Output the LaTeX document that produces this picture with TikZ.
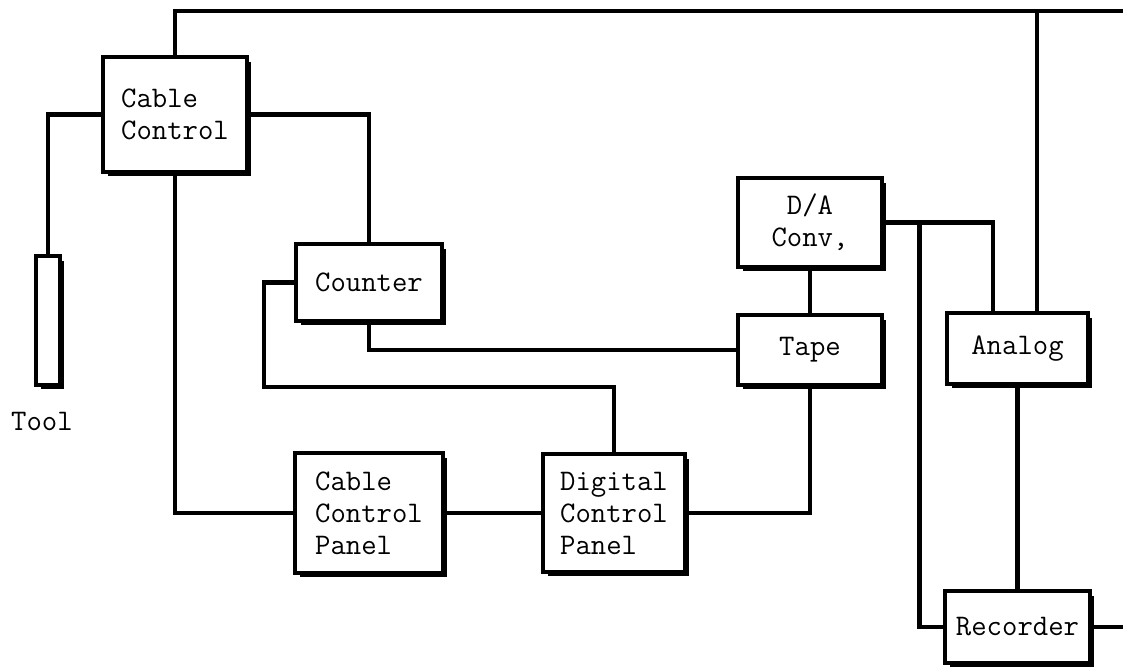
\documentclass[tikz,border=0pt]{standalone}
\usepackage{tikz}
\usetikzlibrary{shadows}

\begin{document}
\begin{tikzpicture}[x=0.02cm, y=-0.02cm, line width=2.6pt,
    unit/.style={draw, fill=white, inner sep=0pt, align=left,
        font=\fontsize{17}{18.2}\selectfont\ttfamily,
        drop shadow={shadow xshift=0.09cm, shadow yshift=-0.09cm, fill=black, opacity=1}},
    label/.style={font=\fontsize{17}{18.2}\selectfont\ttfamily}]
    % Page: pixel grid of the scan, y runs downwards
    \fill[white] (0,0) rectangle (1123,671);
    \useasboundingbox (0,0) rectangle (1123,671);

    % Units
    \node[unit, minimum width=2.88cm, minimum height=2.3cm]  (cable)   at (175,114.5) {Cable\\Control};
    \node[unit, minimum width=0.48cm, minimum height=2.58cm] (tool)    at (48,320.5) {};
    \node[label] (toollabel) at (42,421) {Tool};
    \node[unit, minimum width=2.92cm, minimum height=1.54cm] (counter) at (369,282.5) {Counter};
    \node[unit, minimum width=2.96cm, minimum height=2.4cm]  (ccpanel) at (369,513) {Cable\\Control\\Panel};
    \node[unit, minimum width=2.84cm, minimum height=2.36cm] (dcpanel) at (614,513) {Digital\\Control\\Panel};
    \node[unit, align=center, minimum width=2.88cm, minimum height=1.78cm] (dac) at (810,222.5) {D/A\\Conv,};
    \node[unit, minimum width=2.88cm, minimum height=1.4cm]  (tape)    at (810,350) {Tape};
    \node[unit, minimum width=2.82cm, minimum height=1.42cm] (analog)  at (1017.5,348.5) {Analog};
    \node[unit, minimum width=2.9cm, minimum height=1.44cm]  (rec)     at (1017.5,627) {Recorder};

    % Free ends at the right edge and bends
    \coordinate (topR) at (1123,11);
    \coordinate (recR) at (1123,627);
    \coordinate (loop) at (264,387);

    % Cable control links
    \draw (cable.north) |- (topR);
    \draw ([xshift=0.39cm]analog.north) -- ([xshift=0.39cm]analog.north |- topR);
    \draw (cable.west) -| (tool.north);
    \draw (cable.east) -| (counter.north);
    \draw (cable.south) |- (ccpanel.west);
    \draw (ccpanel.east) -- (dcpanel.west);

    % Counter and tape
    \draw (counter.west) -| (loop) -| (dcpanel.north);
    \draw (counter.south) |- (tape.west);
    \draw (dcpanel.east) -| (tape.south);
    \draw (dac.south) -- (tape.north);

    % Converter, analog and recorder
    \draw (dac.east) -| ([xshift=-0.49cm]analog.north);
    \draw ([xshift=0.7cm]dac.east) |- (rec.west);
    \draw (analog.south) -- (rec.north);
    \draw (rec.east) -- (recR);
\end{tikzpicture}
\end{document}
